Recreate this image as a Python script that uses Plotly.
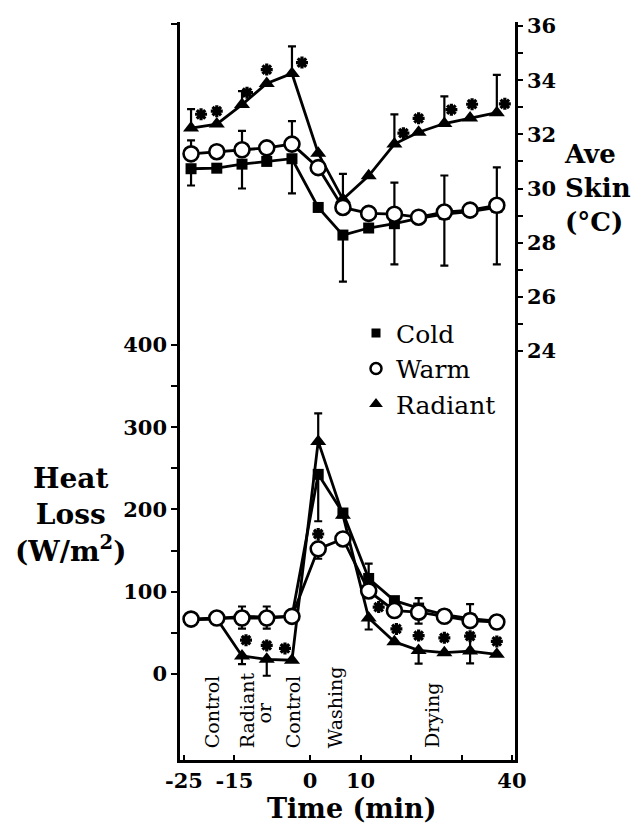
import plotly.graph_objects as go

# ---------------- data ----------------
times = [-23.6, -18.5, -13.5, -8.6, -3.6, 1.6, 6.5, 11.6, 16.7, 21.5, 26.6, 31.7, 37.0]

# average skin temperature (deg C) -- upper panel, right axis
cold_skin = [30.73, 30.75, 30.9, 31.0, 31.1, 29.3, 28.28, 28.54, 28.7, 28.9, 29.05, 29.15, 29.3]
warm_skin = [31.28, 31.36, 31.43, 31.5, 31.64, 30.77, 29.3, 29.08, 29.05, 28.94, 29.13, 29.2, 29.38]
radiant_skin = [32.23, 32.38, 33.1, 33.88, 34.25, 31.3, 29.6, 30.47, 31.64, 32.08, 32.4, 32.6, 32.8]
cold_skin_err_minus = [0.62, 0, 0.9, 0, 1.28, 0, 1.72, 0, 1.5, 0, 1.9, 0, 2.1]
warm_skin_err_plus = [0.5, 0, 0.7, 0, 0.85, 0, 1.24, 0, 1.17, 0, 1.35, 0, 1.4]
radiant_skin_err_plus = [0.7, 0, 0.5, 0, 1.0, 0, 0, 0, 1.1, 0, 1.0, 0, 1.4]

# heat loss (W/m2) -- lower panel, left axis
cold_heat = [66, 67, 70, 69, 70, 242.6, 195.6, 116, 89, 80, 72, 67, 64]
warm_heat = [66.6, 67.9, 67.9, 67.9, 69.9, 152, 164, 100.8, 77, 75, 70, 64.7, 63]
radiant_heat = [66, 67, 21.7, 17.7, 16.5, 282.7, 193, 67.9, 38.9, 28.5, 25.7, 27.7, 23.7]
cold_heat_err_plus = [0, 0, 0, 0, 0, 0, 0, 18, 0, 0, 0, 0, 0]
cold_heat_err_minus = [0, 0, 0, 0, 0, 57, 0, 0, 0, 0, 0, 0, 0]
warm_heat_err_plus = [0, 0, 14, 14, 0, 0, 0, 0, 0, 17, 5, 20, 8]
warm_heat_err_minus = [0, 0, 13, 13, 0, 12, 0, 0, 0, 14, 0, 0, 0]
radiant_heat_err_plus = [0, 0, 0, 0, 0, 34, 0, 0, 0, 0, 0, 21, 0]
radiant_heat_err_minus = [0, 0, 10, 20, 0, 0, 0, 14, 0, 16, 0, 15, 0]

# significance markers (indices)
sig_skin_radiant = [0, 1, 2, 3, 4, 8, 9, 10, 11, 12]
sig_heat_radiant = [2, 3, 4, 7, 8, 9, 10, 11, 12]
sig_heat_warm = [5]

x_ticks = [-25, -15, 0, 10, 20, 30, 40]
x_ticklabels = ["-25", "-15", "0", "10", " ", " ", "40"]
left_ticks = [0, 50, 100, 150, 200, 250, 300, 350, 400, 790]
left_ticklabels = ["0", " ", "100", " ", "200", " ", "300", " ", "400", " "]
right_ticks = [24, 25, 26, 27, 28, 29, 30, 31, 32, 33, 34, 35, 36]
right_ticklabels = ["24", " ", "26", " ", "28", " ", "30", " ", "32", " ", "34", " ", "36"]

phases = ["Control", "Radiant", "or", "Control", "Washing", "Drying"]
phase_x = [-19.45, -12.5, -8.95, -3.4, 4.9, 24.3]

# ---------------- layout constants ----------------
W, H = 644, 824
ML, MR, MT, MB = 180, 129, 15, 64
XR = [-25.79, 40.6]
YR = [-104.8, 792.8]
Y2R = [8.89, 36.15]
PW, PH = W - ML - MR, H - MT - MB
X_PER_PX = (XR[1] - XR[0]) / PW
Y_PER_PX = (YR[1] - YR[0]) / PH
Y2_PER_PX = (Y2R[1] - Y2R[0]) / PH

SERIF = "DejaVu Serif"
BLACK = "black"
LW = 2.8

fig = go.Figure()

def err(plus, minus):
    return dict(type="data", symmetric=False, array=plus, arrayminus=minus,
                color=BLACK, thickness=2.2, width=4)

zero = [0] * len(times)

sq = dict(symbol="square", size=11, color=BLACK)
ci = dict(symbol="circle", size=15, color="white", line=dict(color=BLACK, width=2.6))
tr = dict(symbol="triangle-up", size=14, color=BLACK)

# Upper panel (skin, y2) ; draw order radiant, cold, warm
fig.add_trace(go.Scatter(x=times, y=radiant_skin, yaxis="y2", mode="lines+markers",
                         line=dict(color=BLACK, width=LW), marker=tr,
                         error_y=err(radiant_skin_err_plus, zero), showlegend=False))
fig.add_trace(go.Scatter(x=times, y=cold_skin, yaxis="y2", mode="lines+markers",
                         line=dict(color=BLACK, width=LW), marker=sq,
                         error_y=err(zero, cold_skin_err_minus), showlegend=False))
fig.add_trace(go.Scatter(x=times, y=warm_skin, yaxis="y2", mode="lines+markers",
                         line=dict(color=BLACK, width=LW), marker=ci,
                         error_y=err(warm_skin_err_plus, zero), showlegend=False))

# Lower panel (heat loss, y)
fig.add_trace(go.Scatter(x=times, y=radiant_heat, mode="lines+markers",
                         line=dict(color=BLACK, width=LW), marker=tr,
                         error_y=err(radiant_heat_err_plus, radiant_heat_err_minus), showlegend=False))
fig.add_trace(go.Scatter(x=times, y=cold_heat, mode="lines+markers",
                         line=dict(color=BLACK, width=LW), marker=sq,
                         error_y=err(cold_heat_err_plus, cold_heat_err_minus), showlegend=False))
fig.add_trace(go.Scatter(x=times, y=warm_heat, mode="lines+markers",
                         line=dict(color=BLACK, width=LW), marker=ci,
                         error_y=err(warm_heat_err_plus, warm_heat_err_minus), showlegend=False))

# significance asterisks: placed at the point plus a pixel offset
skin_star_shift = {0: (10, 14), 1: (0, 13), 2: (5, 12), 3: (0, 14), 4: (10, 11),
                   8: (9, 11), 9: (0, 14), 10: (7, 14), 11: (2, 14), 12: (8, 9)}
heat_star_shift = {2: (4, 16), 3: (0, 14), 4: (-7, 12), 7: (10, 11), 8: (2, 13),
                   9: (0, 15), 10: (0, 15), 11: (0, 15), 12: (0, 13)}
star = dict(symbol="asterisk-open", size=10, line=dict(color=BLACK, width=3.2), color=BLACK)

sx = [times[i] + skin_star_shift[i][0] * X_PER_PX for i in sig_skin_radiant]
sy = [radiant_skin[i] + skin_star_shift[i][1] * Y2_PER_PX for i in sig_skin_radiant]
fig.add_trace(go.Scatter(x=sx, y=sy, yaxis="y2", mode="markers", marker=star, showlegend=False))

hx = [times[i] + heat_star_shift[i][0] * X_PER_PX for i in sig_heat_radiant]
hy = [radiant_heat[i] + heat_star_shift[i][1] * Y_PER_PX for i in sig_heat_radiant]
hx += [times[i] for i in sig_heat_warm]
hy += [warm_heat[i] + 15 * Y_PER_PX for i in sig_heat_warm]
fig.add_trace(go.Scatter(x=hx, y=hy, mode="markers", marker=star, showlegend=False))

# legend-only entries
fig.add_trace(go.Scatter(x=[None], y=[None], mode="markers", name="Cold",
                         marker=dict(symbol="square", size=9, color=BLACK), legendgroup="a"))
fig.add_trace(go.Scatter(x=[None], y=[None], mode="markers", name="Warm",
                         marker=dict(symbol="circle", size=11, color="white",
                                     line=dict(color=BLACK, width=2.5)), legendgroup="b"))
fig.add_trace(go.Scatter(x=[None], y=[None], mode="markers", name="Radiant",
                         marker=dict(symbol="triangle-up", size=12, color=BLACK), legendgroup="c"))

annotations = []

# phase labels (rotated)
PH_FONT = dict(family=SERIF, size=19, color=BLACK)
for name, px in zip(phases, phase_x):
    if name == "or":
        annotations.append(dict(x=px, y=-47, xref="x", yref="y", text=name, textangle=-90,
                                showarrow=False, font=PH_FONT, xanchor="center", yanchor="middle"))
    else:
        annotations.append(dict(x=px, y=-93, xref="x", yref="y", text=name, textangle=-90,
                                showarrow=False, font=PH_FONT, xanchor="center", yanchor="bottom"))

TITLE_FONT = dict(family=SERIF, size=28, color=BLACK, weight="bold")
annotations.append(dict(x=(70 - ML) / PW, y=(H - MB - 513) / PH, xref="paper", yref="paper",
                        text="Heat<br>Loss<br>(W/m<sup>2</sup>)", showarrow=False,
                        font=TITLE_FONT, xanchor="center", yanchor="middle", align="center"))
annotations.append(dict(x=(562 - ML) / PW, y=(H - MB - 183) / PH, xref="paper", yref="paper",
                        text="Ave<br>Skin<br>(°C)", showarrow=False,
                        font=dict(family=SERIF, size=26, color=BLACK, weight="bold"),
                        xanchor="left", yanchor="middle", align="left"))
annotations.append(dict(x=(352 - ML) / PW, y=(H - MB - 809) / PH, xref="paper", yref="paper",
                        text="Time (min)", showarrow=False,
                        font=dict(family=SERIF, size=27, color=BLACK, weight="bold"),
                        xanchor="center", yanchor="middle"))

TICK_FONT = dict(family=SERIF, size=21, color=BLACK, weight="bold")

fig.update_layout(
    width=W, height=H,
    margin=dict(l=ML, r=MR, t=MT, b=MB),
    paper_bgcolor="white", plot_bgcolor="white",
    showlegend=True,
    legend=dict(x=(356 - ML) / PW, y=(H - MB - 306) / PH, xanchor="left", yanchor="top",
                font=dict(family=SERIF, size=25, color=BLACK),
                bgcolor="rgba(0,0,0,0)", traceorder="grouped", tracegroupgap=0,
                itemwidth=30),
    xaxis=dict(range=XR, tickvals=x_ticks, ticktext=x_ticklabels,
               showline=True, linecolor=BLACK, linewidth=2.5, ticks="inside",
               ticklen=5, tickwidth=2, tickcolor=BLACK, tickfont=TICK_FONT,
               showgrid=False, zeroline=False),
    yaxis=dict(range=YR, tickvals=left_ticks, ticktext=left_ticklabels,
               showline=True, linecolor=BLACK, linewidth=2.5, ticks="outside",
               ticklen=6, tickwidth=2, tickcolor=BLACK, tickfont=TICK_FONT,
               showgrid=False, zeroline=False),
    yaxis2=dict(range=Y2R, overlaying="y", side="right",
                tickvals=right_ticks, ticktext=right_ticklabels,
                showline=True, linecolor=BLACK, linewidth=2.5, ticks="outside",
                ticklen=5, tickwidth=2, tickcolor=BLACK, tickfont=TICK_FONT,
                showgrid=False, zeroline=False),
    annotations=annotations,
)

fig.write_html("out.html", config={"displayModeBar": False},
               post_script="document.body.style.margin='0';")
